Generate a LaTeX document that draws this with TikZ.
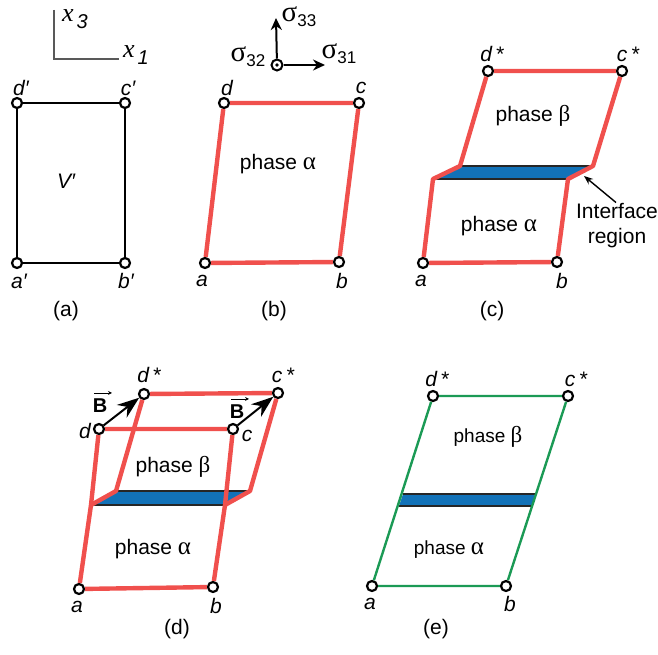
\documentclass[tikz,border=0pt]{standalone}
\usepackage{fontspec}
\setmainfont{Liberation Sans}
\newfontfamily\symbfont{Liberation Serif}
\usetikzlibrary{arrows.meta}

\definecolor{phasered}{HTML}{F0504D}
\definecolor{phasegreen}{HTML}{1B9A55}
\definecolor{bandblue}{HTML}{1272B8}

\newcommand{\bigfont}{\fontsize{21}{24}\selectfont}
\newcommand{\galpha}{{\symbfont\fontsize{25}{22}\selectfont α}}
\newcommand{\gbeta}{{\symbfont\fontsize{23}{22}\selectfont β}}
\newcommand{\stresslab}[1]{{\symbfont\fontsize{29}{27}\selectfont σ}\raisebox{-5pt}{\fontsize{17}{16}\selectfont #1}}
\newcommand{\axislab}[1]{{\symbfont\itshape\fontsize{26}{25}\selectfont x}\hspace{3pt}\raisebox{-7pt}{\itshape\fontsize{20}{18}\selectfont #1}}

\tikzset{
    vertex/.style={circle, draw=black, fill=white, line width=2.2pt, minimum size=10pt, inner sep=0pt},
    txt/.style={inner sep=0pt, font=\bigfont},
    corner/.style={inner sep=0pt, font=\bigfont\itshape},
    redline/.style={draw=phasered, line width=4.4pt, line join=round},
    greenline/.style={draw=phasegreen, line width=2.4pt, line join=round},
    band/.style={fill=bandblue},
    bandedge/.style={draw=black!85, line width=1.8pt},
    shear/.style={-{Stealth[length=22pt, width=16pt]}, line width=2pt},
    stress/.style={-{Stealth[length=12pt, width=11pt]}, line width=2pt},
    vecbar/.style={-{Stealth[length=4pt, width=4pt]}, line width=0.8pt},
    labB/.style={inner sep=0pt, font=\fontsize{20}{20}\selectfont\bfseries}
}

\begin{document}
\begin{tikzpicture}[x=1pt, y=-1pt]
    \useasboundingbox (0,0) rectangle (658,655);

    % Axes
    \coordinate (ax0) at (54,59);
    \coordinate (ax3) at (54,10);
    \coordinate (ax1) at (119,59);
    \draw[black!65, line width=1.1pt] (ax3) -- (ax0) -- (ax1);
    \node[inner sep=0pt] (labx3) at (75,19) {\axislab{3}};
    \node[inner sep=0pt] (labx1) at (136,55) {\axislab{1}};

    % Panel a
    \node[vertex] (a1) at (17,263) {};
    \node[vertex] (b1) at (125,263) {};
    \node[vertex] (c1) at (125,103) {};
    \node[vertex] (d1) at (17,103) {};
    \draw[line width=2pt] (a1) -- (b1) -- (c1) -- (d1) -- (a1);
    \node[corner] (labd1) at (21,88) {d′};
    \node[corner] (labc1) at (128,88) {c′};
    \node[corner] (laba1) at (19,281) {a′};
    \node[corner] (labb1) at (126,281) {b′};
    \node[corner] (labV) at (66,181) {V′};

    % Panel b
    \node[vertex] (a2) at (205,263) {};
    \node[vertex] (b2) at (339,262) {};
    \node[vertex] (c2) at (359,103) {};
    \node[vertex] (d2) at (224,103) {};
    \draw[redline] (a2) -- (b2) -- (c2) -- (d2) -- (a2);
    \node[corner] (labd2) at (227,88) {d};
    \node[corner] (labc2) at (361,88) {c};
    \node[corner] (laba2) at (202,281) {a};
    \node[corner] (labb2) at (342,281) {b};
    \node[txt] (phA2) at (278,164) {phase \galpha};

    % Stress arrows
    \node[circle, draw=black, line width=2pt, minimum size=11pt, inner sep=0pt] (st0) at (277,65) {};
    \fill (st0.center) circle (1.8pt);
    \coordinate (st3) at (276,18);
    \coordinate (st1) at (325,65);
    \draw[stress] (st0) -- (st3);
    \draw[stress] (st0) -- (st1);
    \node[inner sep=0pt] (lab33) at (299,17) {\stresslab{33}};
    \node[inner sep=0pt] (lab31) at (339,54) {\stresslab{31}};
    \node[inner sep=0pt] (lab32) at (248,57) {\stresslab{32}};

    % Panel c
    \node[vertex] (a3) at (423,263) {};
    \node[vertex] (b3) at (557,262) {};
    \node[vertex] (c3) at (622,71) {};
    \node[vertex] (d3) at (488,71) {};
    \coordinate (k3a) at (433,179);
    \coordinate (k3b) at (460,166);
    \coordinate (k3c) at (568,179);
    \coordinate (k3d) at (593,166);
    \fill[band] (k3a) -- (k3b) -- (k3d) -- (k3c) -- cycle;
    \draw[bandedge] (k3b) -- (k3d);
    \draw[bandedge] (k3a) -- (k3c);
    \draw[redline] (a3) -- (k3a) -- (k3b) -- (d3) -- (c3) -- (k3d) -- (k3c) -- (b3) -- (a3);
    \node[corner] (labd3) at (492,54) {d\,*};
    \node[corner] (labc3) at (628,54) {c\,*};
    \node[corner] (laba3) at (421,281) {a};
    \node[corner] (labb3) at (562,281) {b};
    \node[txt] (phB3) at (533,116) {phase \gbeta};
    \node[txt] (phA3) at (499,226) {phase \galpha};
    \node[txt, align=center] (labIF) at (617,226) {Interface\\[1pt]region};
    \coordinate (ifTip) at (584,176);
    \draw[-{Stealth[length=9pt, width=7pt]}, line width=1.4pt] (labIF.north) ++(-1,-1) -- (ifTip);

    % Panel d
    \node[vertex] (a4) at (79,589) {};
    \node[vertex] (b4) at (213,587) {};
    \node[vertex] (c4) at (233,429) {};
    \node[vertex] (d4) at (99,429) {};
    \node[vertex] (cs4) at (278,393) {};
    \node[vertex] (ds4) at (144,394) {};
    \coordinate (k4a) at (91,505);
    \coordinate (k4b) at (116,491);
    \coordinate (k4c) at (225,505);
    \coordinate (k4d) at (250,491);
    \fill[band] (k4a) -- (k4b) -- (k4d) -- (k4c) -- cycle;
    \draw[bandedge] (k4b) -- (k4d);
    \draw[bandedge] (k4a) -- (k4c);
    \draw[redline] (a4) -- (k4a) -- (d4) -- (c4) -- (k4c) -- (b4) -- (a4);
    \draw[redline] (k4a) -- (k4b) -- (ds4) -- (cs4) -- (k4d) -- (k4c);
    \draw[shear] (d4) -- (ds4);
    \draw[shear] (c4) -- (cs4);
    \node[corner] (labd4) at (85,431) {d};
    \node[corner] (labc4) at (247,436) {c};
    \node[corner] (labds4) at (149,375) {d\,*};
    \node[corner] (labcs4) at (283,375) {c\,*};
    \node[corner] (laba4) at (77,607) {a};
    \node[corner] (labb4) at (216,606) {b};
    \node[labB] (labB1) at (100,406) {B};
    \node[labB] (labB2) at (237,412) {B};
    \draw[vecbar] ([shift={(-6,-6)}]labB1.north) -- ([shift={(12,-6)}]labB1.north);
    \draw[vecbar] ([shift={(-6,-6)}]labB2.north) -- ([shift={(12,-6)}]labB2.north);
    \node[txt] (phB4) at (173,467) {phase \gbeta};
    \node[txt] (phA4) at (153,549) {phase \galpha};

    % Panel e
    \node[vertex] (a5) at (372,586) {};
    \node[vertex] (b5) at (506,586) {};
    \node[vertex] (c5) at (568,396) {};
    \node[vertex] (d5) at (433,396) {};
    \coordinate (k5a) at (399,506);
    \coordinate (k5b) at (403,494);
    \coordinate (k5c) at (532,506);
    \coordinate (k5d) at (535,494);
    \fill[band] (k5a) -- (k5b) -- (k5d) -- (k5c) -- cycle;
    \draw[bandedge] (k5b) -- (k5d);
    \draw[bandedge] (k5a) -- (k5c);
    \draw[greenline] (a5) -- (b5) -- (c5) -- (d5) -- (a5);
    \node[corner] (labd5) at (437,379) {d\,*};
    \node[corner] (labc5) at (576,379) {c\,*};
    \node[corner] (laba5) at (370,604) {a};
    \node[corner] (labb5) at (510,604) {b};
    \node[txt, font=\fontsize{19}{22}\selectfont] (phB5) at (488,437) {phase \gbeta};
    \node[txt, font=\fontsize{19}{22}\selectfont] (phA5) at (449,550) {phase \galpha};

    % Panel captions
    \foreach \lab/\x/\y in {a/66/311, b/274/311, c/492/311, d/177/629, e/436/629}
        \node[txt] (cap\lab) at (\x,\y) {(\lab)};

\end{tikzpicture}
\end{document}
